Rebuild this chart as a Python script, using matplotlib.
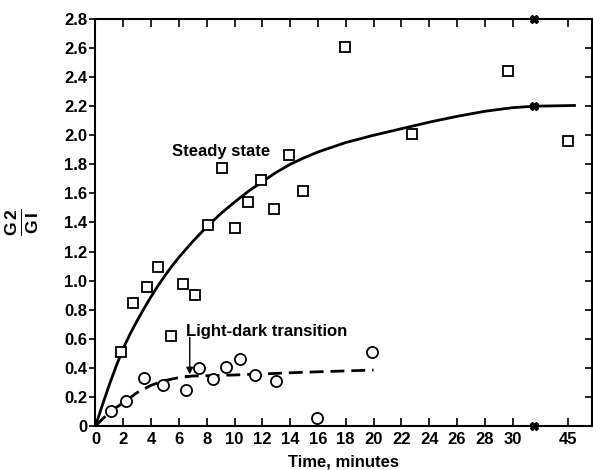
import matplotlib
matplotlib.use("Agg")
import matplotlib.pyplot as plt
import numpy as np
from matplotlib.ticker import FixedLocator, FixedFormatter

plt.rcParams['font.family'] = ['Liberation Sans', 'DejaVu Sans']
plt.rcParams['font.weight'] = 'bold'
plt.rcParams['mathtext.fontset'] = 'custom'
plt.rcParams['mathtext.rm'] = 'Liberation Sans:bold'
plt.rcParams['mathtext.bf'] = 'Liberation Sans:bold'
plt.rcParams['mathtext.it'] = 'Liberation Sans:bold'

# ---- data (time in minutes) ----
steady_t = [1.84, 2.67, 3.73, 4.47, 5.42, 6.33, 7.17, 8.12, 9.08, 10.0, 11.0,
            11.9, 12.85, 13.9, 14.9, 17.98, 22.75, 29.7, 45]
steady_y = [0.51, 0.847, 0.957, 1.095, 0.62, 0.98, 0.898, 1.384, 1.778, 1.36, 1.544,
            1.69, 1.49, 1.865, 1.615, 2.605, 2.01, 2.44, 1.96]

trans_t = [1.15, 2.22, 3.47, 4.87, 6.52, 7.48, 8.44, 9.39, 10.42, 11.45, 12.95, 15.9, 19.86]
trans_y = [0.105, 0.174, 0.328, 0.282, 0.245, 0.396, 0.323, 0.408, 0.46, 0.35, 0.311, 0.053, 0.51]

steady_curve_t = [0, 0.5, 1, 1.5, 2, 2.5, 3, 3.5, 4, 4.5, 5, 5.5, 6, 7, 8, 9, 10, 11, 12, 13, 14,
                  15, 16, 18, 20, 22, 24, 26, 28, 30, 35.8, 46.7]
steady_curve_y = [0, 0.145, 0.285, 0.415, 0.535, 0.635, 0.725, 0.81, 0.89, 0.965, 1.035, 1.10,
                  1.16, 1.27, 1.37, 1.46, 1.54, 1.615, 1.68, 1.745, 1.80, 1.845, 1.885, 1.95,
                  2.00, 2.045, 2.09, 2.13, 2.165, 2.19, 2.20, 2.205]

trans_curve_t = [0, 1, 2, 3, 4, 5, 6, 7, 8, 10, 12, 14, 16, 18, 20]
trans_curve_y = [0, 0.095, 0.16, 0.23, 0.28, 0.313, 0.333, 0.344, 0.346, 0.351, 0.358, 0.366,
                 0.373, 0.379, 0.385]

xticks = [0, 2, 4, 6, 8, 10, 12, 14, 16, 18, 20, 22, 24, 26, 28, 30, 45]
xticklabels = [str(v) for v in xticks]
yticks = [0, 0.2, 0.4, 0.6, 0.8, 1.0, 1.2, 1.4, 1.6, 1.8, 2.0, 2.2, 2.4, 2.6, 2.8]
yticklabels = ['0'] + ['%.1f' % v for v in yticks[1:]]

break_t = 35.8          # position of axis break (in minutes scale)
transition_t = 6.78     # light-dark transition time

# ---- broken time scale: linear to 30, compressed afterwards ----
def fwd(x):
    x = np.asarray(x, dtype=float)
    return np.where(x <= 30, x, 30 + (x - 30) * 4.0 / 15.0)

def inv(y):
    y = np.asarray(y, dtype=float)
    return np.where(y <= 30, y, 30 + (y - 30) * 15.0 / 4.0)

fig = plt.figure(figsize=(5.93, 4.70), dpi=100)
ax = fig.add_axes([0.161, 0.0936, 0.837, 0.866])
ax.set_xscale('function', functions=(fwd, inv))
ax.set_xlim(0, inv(35.7))
ax.set_ylim(0, 2.8)

ax.plot(steady_curve_t, steady_curve_y, color='black', lw=2.0, zorder=2)
ax.plot(trans_curve_t, trans_curve_y, color='black', lw=2.0, dashes=(5, 2.5), zorder=2)

ax.plot(steady_t, steady_y, linestyle='none', marker='s', markersize=7.5,
        markerfacecolor='white', markeredgecolor='black', markeredgewidth=1.3, zorder=3)
ax.plot(trans_t, trans_y, linestyle='none', marker='o', markersize=8,
        markerfacecolor='white', markeredgecolor='black', markeredgewidth=1.3, zorder=3)

# break marks
ax.plot([break_t, break_t, break_t], [0, 2.2, 2.8], linestyle='none', marker='X',
        markersize=6, color='black', clip_on=False, zorder=4)

# annotations
ax.text(5.54, 1.86, 'Steady state', fontsize=12, fontweight='bold', ha='left', va='baseline')
ax.text(6.5, 0.62, 'Light-dark transition', fontsize=12, fontweight='bold', ha='left', va='baseline')
ax.annotate('', xy=(transition_t, 0.355), xytext=(transition_t, 0.61),
            arrowprops=dict(arrowstyle='-|>', color='black', lw=1.0,
                            mutation_scale=10, shrinkA=0, shrinkB=0))
ax.plot([transition_t - 0.25, transition_t + 0.25], [0.345, 0.345], color='black', lw=1.5)

# ticks
ax.xaxis.set_major_locator(FixedLocator(xticks))
ax.xaxis.set_major_formatter(FixedFormatter(xticklabels))
ax.xaxis.set_minor_locator(FixedLocator([]))
ax.yaxis.set_major_locator(FixedLocator(yticks))
ax.yaxis.set_major_formatter(FixedFormatter(yticklabels))
ax.tick_params(axis='x', direction='in', length=6, width=1.2, labelsize=12, pad=4,
               top=True)
ax.tick_params(axis='y', direction='out', length=4, width=1.2, labelsize=12, pad=2)
ax.tick_params(axis='y', which='major', right=True)
for t in ax.yaxis.get_major_ticks():
    t.tick2line.set_marker(matplotlib.lines.TICKLEFT)
    t.tick2line.set_markersize(5)
for lab in ax.get_xticklabels() + ax.get_yticklabels():
    lab.set_fontweight('bold')

for s in ax.spines.values():
    s.set_linewidth(1.5)

ax.set_xlabel('Time, minutes', fontsize=12, fontweight='bold', labelpad=6)
ax.text(-0.147, 0.5, r'$\frac{\mathbf{G}\,\mathbf{2}}{\mathbf{G}\,\mathbf{I}}$', transform=ax.transAxes,
        rotation=90, fontsize=18, ha='center', va='center')

fig.savefig('out.png', dpi=100)
